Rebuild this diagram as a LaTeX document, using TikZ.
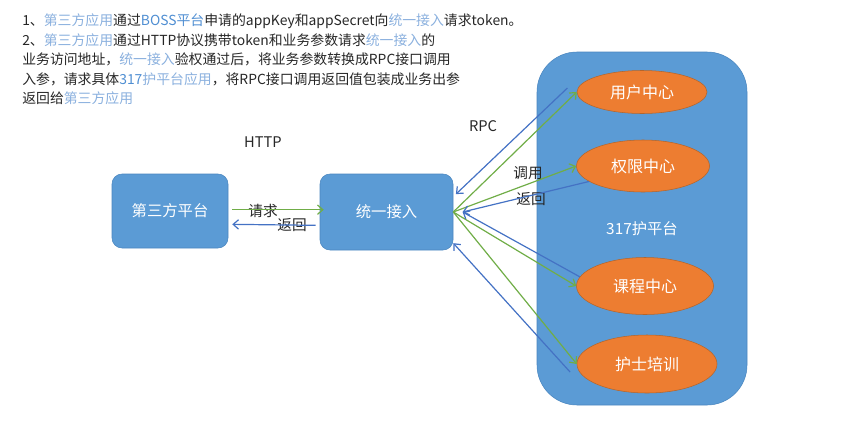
\documentclass[tikz,border=0pt]{standalone}
\usepackage{fontspec}
\setmainfont{Noto Sans CJK SC}
\usepackage{tikz}
\usepackage{xcolor}
\usetikzlibrary{arrows.meta}
\usetikzlibrary{shapes}
\usetikzlibrary{calc}
\usetikzlibrary{positioning}

\definecolor{boxblue}{HTML}{5B9BD5}
\definecolor{boxedge}{HTML}{4A86BF}
\definecolor{ellorange}{HTML}{ED7D31}
\definecolor{elledge}{HTML}{B5652A}
\definecolor{callgreen}{HTML}{70AD47}
\definecolor{retblue}{HTML}{4472C4}
\definecolor{hlight}{HTML}{8AB0DE}
\definecolor{hdark}{HTML}{4F8ED2}
\definecolor{ink}{HTML}{262626}

\tikzset{
  para/.style={anchor=base west, inner sep=0pt, text=ink, font=\fontsize{10.4}{14}\selectfont},
  sysbox/.style={draw=boxedge, fill=boxblue, rounded corners=7.5pt, text=white, font=\fontsize{11.5}{14}\selectfont},
  app/.style={ellipse, draw=elledge, fill=ellorange, text=white, inner sep=0pt, font=\fontsize{12}{14}\selectfont},
  lbl/.style={text=ink, inner sep=0pt, font=\fontsize{11}{14}\selectfont},
  call/.style={->, draw=callgreen, line width=0.9pt},
  back/.style={->, draw=retblue, line width=0.9pt}
}

\begin{document}
\begin{tikzpicture}[x=0.75pt, y=-0.75pt, >={Straight Barb[length=4pt,width=7pt]}]
  \useasboundingbox (0,0) rectangle (855,421);

  % text at the top
  \node[para] (l1) at (22,25) {1、\textcolor{hlight}{第三方应用}通过\textcolor{hdark}{BOSS平台}申请的appKey和appSecret向\textcolor{hlight}{统一接入}请求token。};
  \node[para] (l2) at (22,45) {2、\textcolor{hlight}{第三方应用}通过HTTP协议携带token和业务参数请求\textcolor{hlight}{统一接入}的};
  \node[para] (l3) at (22,64) {业务访问地址，\textcolor{hlight}{统一接入}验权通过后，将业务参数转换成RPC接口调用};
  \node[para] (l4) at (22,84) {入参，请求具体\textcolor{hdark}{317}\textcolor{hlight}{护平台应用}，将RPC接口调用返回值包装成业务出参};
  \node[para] (l5) at (22,103) {返回给\textcolor{hlight}{第三方应用}};

  % boxes
  \node[sysbox, minimum width=87pt, minimum height=55.5pt] (third) at (170,211) {第三方平台};
  \node[sysbox, minimum width=99.75pt, minimum height=57pt] (gateway) at (386.5,212) {统一接入};
  \node[sysbox, rounded corners=30pt, minimum width=157.5pt, minimum height=264.75pt] (platform) at (642,228.5) {317护平台};

  \node[app, minimum width=97.5pt, minimum height=32.25pt] (user) at (642,92) {用户中心};
  \node[app, minimum width=99.75pt, minimum height=39pt] (perm) at (643,166) {权限中心};
  \node[app, minimum width=102.75pt, minimum height=42.75pt] (course) at (645,286) {课程中心};
  \node[app, minimum width=105pt, minimum height=43.5pt] (nurse) at (647,364) {护士培训};

  % labels
  \node[lbl] (http) at (263,142) {HTTP};
  \node[lbl] (rpc) at (483,126) {RPC};
  \node[lbl] (req) at (263,211) {请求};
  \node[lbl] (resp) at (292,225) {返回};
  \node[lbl] (invoke) at (528,173) {调用};
  \node[lbl] (answer) at (531,199) {返回};

  % HTTP
  \draw[call] ([xshift=3pt,yshift=1pt]third.east) -- ([xshift=3pt,yshift=1pt]third.east -| gateway.west);
  \draw[back] ([xshift=-3pt,yshift=-10pt]gateway.west) -- ([xshift=3pt,yshift=-10pt]third.east);

  % RPC
  \foreach \t in {user,perm,course,nurse} {
    \draw[call] (gateway.east) -- (\t.west);
  }
  \draw[back] ([xshift=-7pt,yshift=3pt]user.west) -- ([xshift=2pt]gateway.15);
  \draw[back] (perm.196) -- ([xshift=7pt]gateway.east);
  \draw[back] (course.172) -- ([xshift=7pt]gateway.east);
  \draw[back] ([xshift=-5pt,yshift=-6pt]nurse.west) -- (gateway.-25);

\end{tikzpicture}
\end{document}
